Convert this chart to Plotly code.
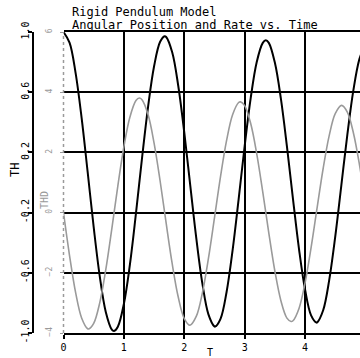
import plotly.graph_objects as go

# ---- data ----
t_th = [0.0, 0.1, 0.2, 0.3, 0.4, 0.5, 0.6, 0.7, 0.8, 0.837, 0.9, 1.0, 1.1, 1.2, 1.3, 1.4, 1.5, 1.6, 1.675,
        1.7, 1.8, 1.9, 2.0, 2.1, 2.2, 2.3, 2.4, 2.5, 2.51, 2.6, 2.7, 2.8, 2.9, 3.0, 3.1, 3.2, 3.3, 3.35,
        3.4, 3.5, 3.6, 3.7, 3.8, 3.9, 4.0, 4.1, 4.19, 4.2, 4.3, 4.4, 4.5, 4.6, 4.7, 4.8, 4.9, 5.0]
th = [1.000, 0.929, 0.729, 0.429, 0.070, -0.297, -0.622, -0.860, -0.977, -0.986, -0.958, -0.806, -0.544,
      -0.205, 0.160, 0.501, 0.772, 0.935, 0.972, 0.967, 0.865, 0.643, 0.333, -0.022, -0.373, -0.672,
      -0.876, -0.957, -0.958, -0.906, -0.729, -0.451, -0.112, 0.242, 0.561, 0.801, 0.928, 0.945, 0.928,
      0.797, 0.557, 0.240, -0.109, -0.442, -0.711, -0.883, -0.931, -0.930, -0.849, -0.649, -0.360,
      -0.022, 0.317, 0.612, 0.820, 0.920]

t_thd = [0.0, 0.1, 0.2, 0.3, 0.4, 0.419, 0.5, 0.6, 0.7, 0.8, 0.9, 1.0, 1.1, 1.2, 1.256, 1.3, 1.4, 1.5,
         1.6, 1.7, 1.8, 1.9, 2.0, 2.094, 2.2, 2.3, 2.4, 2.5, 2.6, 2.7, 2.8, 2.9, 2.931, 3.0, 3.1, 3.2,
         3.3, 3.4, 3.5, 3.6, 3.7, 3.769, 3.8, 3.9, 4.0, 4.1, 4.2, 4.3, 4.4, 4.5, 4.606, 4.7, 4.8, 4.9, 5.0]
thd = [0.0, -1.426, -2.649, -3.499, -3.859, -3.867, -3.683, -2.998, -1.897, -0.538, 0.890, 2.188, 3.174,
       3.723, 3.805, 3.749, 3.257, 2.311, 1.050, -0.352, -1.699, -2.805, -3.519, -3.741, -3.441, -2.666,
       -1.524, -0.176, 1.193, 2.389, 3.250, 3.657, 3.679, 3.554, 2.958, 1.954, 0.683, -0.678, -1.940,
       -2.926, -3.505, -3.616, -3.593, -3.183, -2.338, -1.162, 0.166, 1.465, 2.555, 3.287, 3.561, 3.338,
       2.654, 1.603, 0.300]

x_ticks = [0, 1, 2, 3, 4]
th_ticks = [-1.0, -0.6, -0.2, 0.2, 0.6, 1.0]
th_ticktext = ["-1.0", "-0.6", "-0.2", "0.2", "0.6", "1.0"]
thd_ticks = [-4, -2, 0, 2, 4, 6]

FONT = "DejaVu Sans Mono"
GRAY = "#9a9a9a"
W, H = 360, 358
MT, MB = 32, 25
PH = H - MT - MB
x0_px, yax_px = 63.5, 33


def py(y_px):
    return (H - MB - y_px) / PH


fig = go.Figure()
fig.add_trace(go.Scatter(x=t_thd, y=thd, yaxis="y2", mode="lines",
                         line=dict(color=GRAY, width=1.6, shape="spline"), showlegend=False))
fig.add_trace(go.Scatter(x=t_th, y=th, mode="lines",
                         line=dict(color="black", width=2, shape="spline"), showlegend=False))

fig.update_layout(
    width=W, height=H,
    margin=dict(l=0, r=0, t=MT, b=MB, autoexpand=False),
    paper_bgcolor="white", plot_bgcolor="white",
    font=dict(family=FONT, color="black", size=10),
    showlegend=False,
    xaxis=dict(domain=[x0_px / W, 1], range=[0, 4.91], tickvals=x_ticks, automargin=False,
               showgrid=True, gridcolor="black", gridwidth=1.5,
               showline=True, linecolor="black", linewidth=2, mirror=True,
               ticks="outside", ticklen=4, tickwidth=1.5, tickcolor="black",
               zeroline=False, tickfont=dict(size=10, family=FONT)),
    yaxis=dict(range=[-1, 1], anchor="free", position=yax_px / W, automargin=False,
               tickvals=th_ticks, ticktext=th_ticktext, tickangle=-90,
               showgrid=True, gridcolor="black", gridwidth=1.5,
               showline=True, linecolor="black", linewidth=1.5,
               ticks="outside", ticklen=4, tickwidth=1.5, tickcolor="black",
               ticklabelstandoff=-5,
               zeroline=False, tickfont=dict(size=10, family=FONT)),
    yaxis2=dict(range=[-4, 6], overlaying="y", anchor="x", side="left", automargin=False,
                tickvals=thd_ticks, tickangle=-90, showgrid=False, showline=False,
                ticks="outside", ticklen=3, tickwidth=1, tickcolor=GRAY,
                ticklabelstandoff=4,
                zeroline=False, tickfont=dict(size=8, family=FONT, color=GRAY)),
)

fig.add_shape(type="line", xref="paper", yref="paper", x0=x0_px / W, x1=x0_px / W, y0=0, y1=1,
              line=dict(color=GRAY, width=1.5, dash="dot"))

fig.add_annotation(text="Rigid Pendulum Model", xref="paper", yref="paper", x=70 / W, y=py(12),
                   xanchor="left", yanchor="middle", showarrow=False,
                   font=dict(family=FONT, size=12, color="black"))
fig.add_annotation(text="Angular Position and Rate vs. Time", xref="paper", yref="paper",
                   x=70 / W, y=py(25), xanchor="left", yanchor="middle", showarrow=False,
                   font=dict(family=FONT, size=12, color="black"))
fig.add_annotation(text="TH", xref="paper", yref="paper", x=15 / W, y=py(170),
                   xanchor="center", yanchor="middle",
                   textangle=-90, showarrow=False, font=dict(family=FONT, size=12, color="black"))
fig.add_annotation(text="THD", xref="paper", yref="paper", x=44 / W, y=py(200),
                   xanchor="center", yanchor="middle",
                   textangle=-90, showarrow=False, font=dict(family=FONT, size=10, color=GRAY))
fig.add_annotation(text="T", xref="paper", yref="paper", x=210 / W, y=py(352),
                   xanchor="center", yanchor="middle",
                   showarrow=False, font=dict(family=FONT, size=10, color="black"))

fig.write_html("out.html", config={"displayModeBar": False},
               post_script="document.body.style.margin='0';document.body.style.overflow='hidden';")
